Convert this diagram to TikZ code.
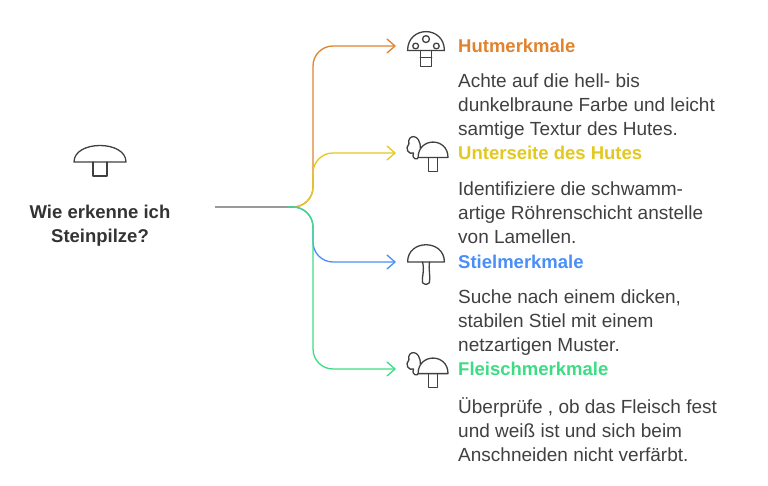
\documentclass[tikz,border=0pt]{standalone}
\usepackage{fontspec}
\setmainfont{Liberation Sans}
\usetikzlibrary{calc}
\begin{document}
\begin{tikzpicture}[x=1pt,y=-1pt,
  br/.style={line width=1.3pt,rounded corners=20pt},
  arr/.style={line width=1.3pt,line cap=round,line join=round},
  ico/.style={line width=1.3pt,draw=black!75,line cap=round,line join=round},
  ttl/.style={anchor=west,font=\fontsize{18.5}{22}\selectfont\bfseries,inner sep=0},
  body/.style={anchor=north west,align=left,text=black!75,font=\fontsize{19}{24}\selectfont,inner sep=0}]
\definecolor{co}{HTML}{E0822E}\definecolor{cy}{HTML}{E2C81F}
\definecolor{cb}{HTML}{4A8EF7}\definecolor{cg}{HTML}{3DDC84}
\useasboundingbox (0,0) rectangle (768,486);
\coordinate (s) at (215,207);
\coordinate (j) at (287,207);
\draw[line width=1.3pt,black!40] (s) -- (j);
\coordinate (eo) at (395,46);\coordinate (ey) at (395,153);
\coordinate (eb) at (395,262);\coordinate (eg) at (395,369);
\draw[br,co] (j) -- (313,207) -- (313,46) -- (eo);
\draw[br,cy] (j) -- (313,207) -- (313,153) -- (ey);
\draw[br,cb] (j) -- (313,207) -- (313,262) -- (eb);
\draw[br,cg] (j) -- (313,207) -- (313,369) -- (eg);
\foreach \e/\c in {eo/co,ey/cy,eb/cb,eg/cg}
  \draw[arr,\c] ($(\e)+(-8,-7)$) -- (\e) -- ($(\e)+(-8,7)$);
% left icon
\draw[ico] (74,162) .. controls (74,140) and (126,140) .. (126,162) -- cycle;
\draw[ico] (93,162) -- (93,176) -- (107,176) -- (107,162);
\node[font=\fontsize{18.5}{24}\selectfont\bfseries,align=center,text=black!80,inner sep=0] (q) at (100,226) {Wie erkenne ich\\Steinpilze?};
% icon 1
\begin{scope}[shift={(426,46)},scale=1.15]
\draw[ico] (-16,4) .. controls (-16,-18) and (16,-18) .. (16,4) -- cycle;
\draw[ico] (-5,4) -- (-5,18) -- (5,18) -- (5,4); \draw[ico] (-5,10)--(5,10);
\draw[ico] (0,-6) circle (3); \draw[ico] (-9,0) circle (2.5); \draw[ico] (9,0) circle (2.5);
\end{scope}
% icon 2
\begin{scope}[shift={(425,153)},scale=1.15]
\draw[ico] (-4,-4) .. controls (-4,-18) and (-16,-16) .. (-14,-8) .. controls (-18,-4) and (-14,2) .. (-10,0) .. controls (-12,6) and (-6,6) .. (-6,4);
\draw[ico] (-6,4) .. controls (-6,-14) and (20,-14) .. (20,4) -- cycle;
\draw[ico] (3,4) -- (3,16) -- (11,16) -- (11,4);
\end{scope}
% icon 3
\begin{scope}[shift={(426,262)},scale=1.15]
\draw[ico] (-16,0) .. controls (-16,-20) and (16,-20) .. (16,0) -- cycle;
\draw[ico] (-3,0) .. controls (-1,8) and (-4,14) .. (-3,18) .. controls (-1,20) and (2,20) .. (3,18) .. controls (4,12) and (2,6) .. (3,0);
\end{scope}
% icon 4
\begin{scope}[shift={(425,369)},scale=1.15]
\draw[ico] (-4,-4) .. controls (-4,-18) and (-16,-16) .. (-14,-8) .. controls (-18,-4) and (-14,2) .. (-10,0) .. controls (-12,6) and (-6,6) .. (-6,4);
\draw[ico] (-6,4) .. controls (-6,-14) and (20,-14) .. (20,4) -- cycle;
\draw[ico] (3,4) -- (3,16) -- (11,16) -- (11,4);
\end{scope}
\node[ttl,text=co] (t1) at (458,46) {Hutmerkmale};
\node[ttl,text=cy] (t2) at (458,153) {Unterseite des Hutes};
\node[ttl,text=cb] (t3) at (458,262) {Stielmerkmale};
\node[ttl,text=cg] (t4) at (458,369) {Fleischmerkmale};
\node[body] (b1) at (458,74) {Achte auf die hell- bis\\dunkelbraune Farbe und leicht\\samtige Textur des Hutes.};
\node[body] (b2) at (458,182) {Identifiziere die schwamm-\\artige Röhrenschicht anstelle\\von Lamellen.};
\node[body] (b3) at (458,290) {Suche nach einem dicken,\\stabilen Stiel mit einem\\netzartigen Muster.};
\node[body] (b4) at (458,397) {Überprüfe , ob das Fleisch fest\\und weiß ist und sich beim\\Anschneiden nicht verfärbt.};
\end{tikzpicture}
\end{document}
